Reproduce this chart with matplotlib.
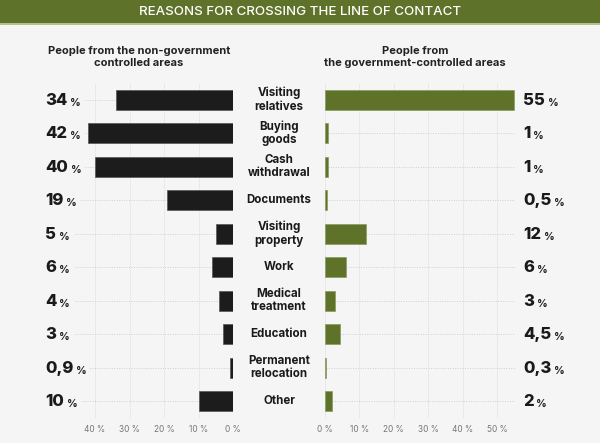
import matplotlib
matplotlib.use("Agg")
import matplotlib.pyplot as plt
from matplotlib.patches import Rectangle

categories = ["Visiting\nrelatives", "Buying\ngoods", "Cash\nwithdrawal", "Documents",
              "Visiting\nproperty", "Work", "Medical\ntreatment", "Education",
              "Permanent\nrelocation", "Other"]
non_gov = [34, 42, 40, 19, 5, 6, 4, 3, 0.9, 10]
non_gov_labels = ["34", "42", "40", "19", "5", "6", "4", "3", "0,9", "10"]
gov = [55, 1, 1, 0.5, 12, 6, 3, 4.5, 0.3, 2]
gov_labels = ["55", "1", "1", "0,5", "12", "6", "3", "4,5", "0,3", "2"]
left_ticks = [40, 30, 20, 10, 0]
right_ticks = [0, 10, 20, 30, 40, 50]
title = "REASONS FOR CROSSING THE LINE OF CONTACT"
header_left = "People from the non-government\ncontrolled areas"
header_right = "People from\nthe government-controlled areas"

plt.rcParams['font.family'] = ['Inter', 'DejaVu Sans']
BG = "#f5f5f5"
DARK = "#1c1c1c"
GREEN = "#5f7229"
W, H = 600, 443

fig = plt.figure(figsize=(6, 4.43), dpi=100, facecolor=BG)

def fx(px):
    return px / W

def fy(py):
    return 1 - py / H

# title bar
fig.patches.append(Rectangle((0, fy(23)), 1, 23 / H, transform=fig.transFigure,
                             facecolor=GREEN, edgecolor="none", zorder=0))
fig.patches.append(Rectangle((0, fy(25)), 1, 2 / H, transform=fig.transFigure,
                             facecolor="#b5c08f", edgecolor="none", zorder=0))
fig.text(0.5, fy(12), title, color="white", fontsize=9.6, fontweight="medium",
         ha="center", va="center")

fig.text(fx(139), fy(57), header_left, ha="center", va="center", fontsize=8,
         fontweight="bold", color="#222222", linespacing=1.15)
fig.text(fx(415), fy(57), header_right, ha="center", va="center", fontsize=8,
         fontweight="bold", color="#222222", linespacing=1.15)

ax_top, ax_bot = 83, 418
n = len(categories)
ys = list(range(n))

def setup(ax, xlim, ticks):
    ax.set_facecolor("none")
    ax.set_xlim(*xlim)
    ax.set_ylim(n - 0.5, -0.5)
    for s in ax.spines.values():
        s.set_visible(False)
    ax.set_yticks([])
    ax.set_xticks(ticks)
    ax.set_xticklabels([f"{t} %" for t in ticks], fontsize=6, color="#777777")
    ax.tick_params(axis="x", length=0, pad=5)
    for t in ticks:
        ax.axvline(t, color="#dddddd", lw=0.7, ls=(0, (1, 1)), zorder=0)

# left axes
l0, l1 = 75, 233
axL = fig.add_axes([fx(l0), fy(ax_bot), (l1 - l0) / W, (ax_bot - ax_top) / H])
setup(axL, (45.8, 0), left_ticks)
for y, v in zip(ys, non_gov):
    axL.plot([45.8, v], [y, y], color="#cfcfcf", lw=0.7, ls=(0, (1, 1.5)), zorder=1)
axL.barh(ys, non_gov, height=0.6, color=DARK, edgecolor="#555555", linewidth=0.5, zorder=2)

# right axes
r0, r1 = 325, 515
axR = fig.add_axes([fx(r0), fy(ax_bot), (r1 - r0) / W, (ax_bot - ax_top) / H])
setup(axR, (0, 55.2), right_ticks)
for y, v in zip(ys, gov):
    axR.plot([v, 55.2], [y, y], color="#cfcfcf", lw=0.7, ls=(0, (1, 1.5)), zorder=1)
axR.barh(ys, gov, height=0.6, color=GREEN, edgecolor="#8a9a5e", linewidth=0.5, zorder=2)

# value labels
for y, s in zip(ys, non_gov_labels):
    ypix = axL.transData.transform((0, y))[1]
    t = fig.text(45 / W, (ypix - 5) / H, s, fontsize=12, fontweight="heavy",
                 color="#1a1a1a", ha="left", va="baseline")
    axL.annotate("%", xy=(1, 0), xycoords=t, xytext=(2, 0), textcoords="offset points",
                 fontsize=7.5, fontweight="bold", color="#1a1a1a", ha="left", va="bottom",
                 bbox=dict(facecolor=BG, edgecolor="none", pad=2.5), zorder=3,
                 annotation_clip=False)

for y, s in zip(ys, gov_labels):
    ypix = axR.transData.transform((0, y))[1]
    t = fig.text(523 / W, (ypix - 5) / H, s, fontsize=12, fontweight="heavy",
                 color="#1a1a1a", ha="left", va="baseline")
    axR.annotate("%", xy=(1, 0), xycoords=t, xytext=(2, 0), textcoords="offset points",
                 fontsize=7.5, fontweight="bold", color="#1a1a1a", ha="left", va="bottom",
                 annotation_clip=False)

# category labels
for y, c in zip(ys, categories):
    ypix = axL.transData.transform((0, y))[1]
    fig.text(fx(279), ypix / H, c, ha="center", va="center", fontsize=8.3,
             fontweight="bold", color="#1a1a1a", linespacing=1.15)

fig.savefig("out.png", dpi=100, facecolor=BG)
